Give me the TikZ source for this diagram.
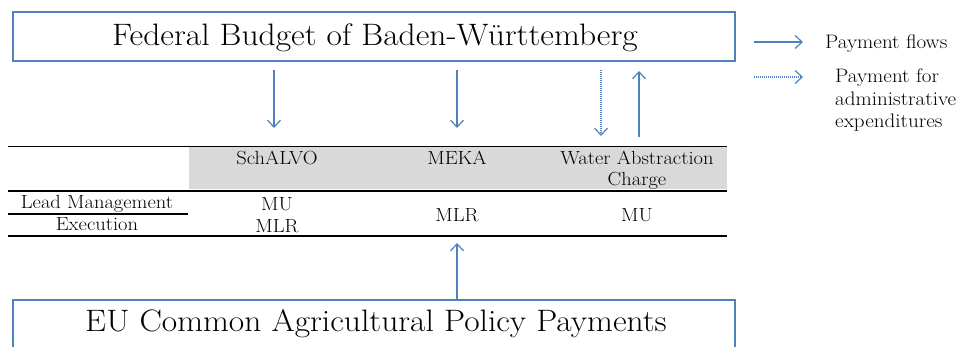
\documentclass[tikz,border=0pt]{standalone}
\usepackage{fontspec}
\setmainfont{Latin Modern Roman}[FakeStretch=1.08]
\usetikzlibrary{arrows.meta}
\definecolor{flowblue}{HTML}{4F81BD}
\definecolor{headgray}{HTML}{D9D9D9}
\tikzset{
  bigbox/.style={draw=flowblue, line width=1.5pt, fill=white},
  bigtext/.style={font=\fontsize{31}{36}\selectfont, anchor=base, inner sep=0pt},
  celltext/.style={font=\fontsize{19}{22}\selectfont, anchor=base, inner sep=0pt},
  legtext/.style={font=\fontsize{19.5}{22.5}\selectfont, anchor=base west, inner sep=0pt, align=left},
  flow/.style={draw=flowblue, line width=1.2pt, -{Straight Barb[length=7pt,width=13pt,line width=1.2pt]}},
  adminflow/.style={flow, dash pattern=on 1pt off 1pt},
  rule/.style={draw=black, line width=1.8pt},
  thinrule/.style={draw=black, line width=1.3pt}
}
\begin{document}
\begin{tikzpicture}[x=1pt,y=-1pt]
\useasboundingbox (0,0) rectangle (960,347);
% top box
\node[bigbox, minimum width=722pt, minimum height=49pt, inner sep=0pt] (fed) at (374,36.5) {};
\node[bigtext] (fedtext) at (375,46) {Federal Budget of Baden-W\"urttemberg};
% bottom box (cut off)
\node[bigbox, minimum width=722pt, minimum height=70pt, inner sep=0pt] (eu) at (374,335) {};
\node[bigtext] (eutext) at (376,331) {EU Common Agricultural Policy Payments};
% table
\fill[headgray] (189,147.5) rectangle (727,189.5);
\coordinate (tl) at (8,146.5);
\coordinate (tr) at (727,146.5);
\coordinate (hl) at (8,191);
\coordinate (hr) at (727,191);
\coordinate (ll) at (8,214);
\coordinate (lr) at (188,214);
\coordinate (bl) at (8,236);
\coordinate (br) at (727,236);
\draw[rule] (tl) -- (tr);
\draw[thinrule] (hl) -- (hr);
\draw[thinrule] (ll) -- (lr);
\draw[rule] (bl) -- (br);
\node[celltext] (h1) at (277,164.5) {SchALVO};
\node[celltext] (h2) at (457,164.5) {MEKA};
\node[celltext] (h3) at (637,164.5) {Water Abstraction};
\node[celltext] (h3b) at (637,186) {Charge};
\node[celltext] (lead) at (97,209) {Lead Management};
\node[celltext] (exec) at (97,231) {Execution};
\node[celltext] (c1a) at (277,210.5) {MU};
\node[celltext] (c1b) at (277,232.5) {MLR};
\node[celltext] (c2) at (457,221.5) {MLR};
\node[celltext] (c3) at (637,221.5) {MU};
% arrows
\coordinate (a1s) at (274,70);
\coordinate (a1e) at (274,128);
\coordinate (a2s) at (457,70);
\coordinate (a2e) at (457,128);
\coordinate (a3s) at (601,70);
\coordinate (a3e) at (601,136);
\coordinate (a4s) at (639,137);
\coordinate (a4e) at (639,71);
\coordinate (a5s) at (457,300);
\coordinate (a5e) at (457,243);
\draw[flow] (a1s) -- (a1e);
\draw[flow] (a2s) -- (a2e);
\draw[adminflow] (a3s) -- (a3e);
\draw[flow] (a4s) -- (a4e);
\draw[flow] (a5s) -- (a5e);
% legend
\coordinate (l1s) at (754,42);
\coordinate (l1e) at (803,42);
\coordinate (l2s) at (754,77);
\coordinate (l2e) at (803,77);
\draw[flow] (l1s) -- (l1e);
\draw[adminflow] (l2s) -- (l2e);
\node[legtext] (leg1) at (825,48.5) {Payment flows};
\node[legtext, anchor=north west] (leg2) at (835,69) {Payment for\\administrative\\expenditures};
\end{tikzpicture}
\end{document}
